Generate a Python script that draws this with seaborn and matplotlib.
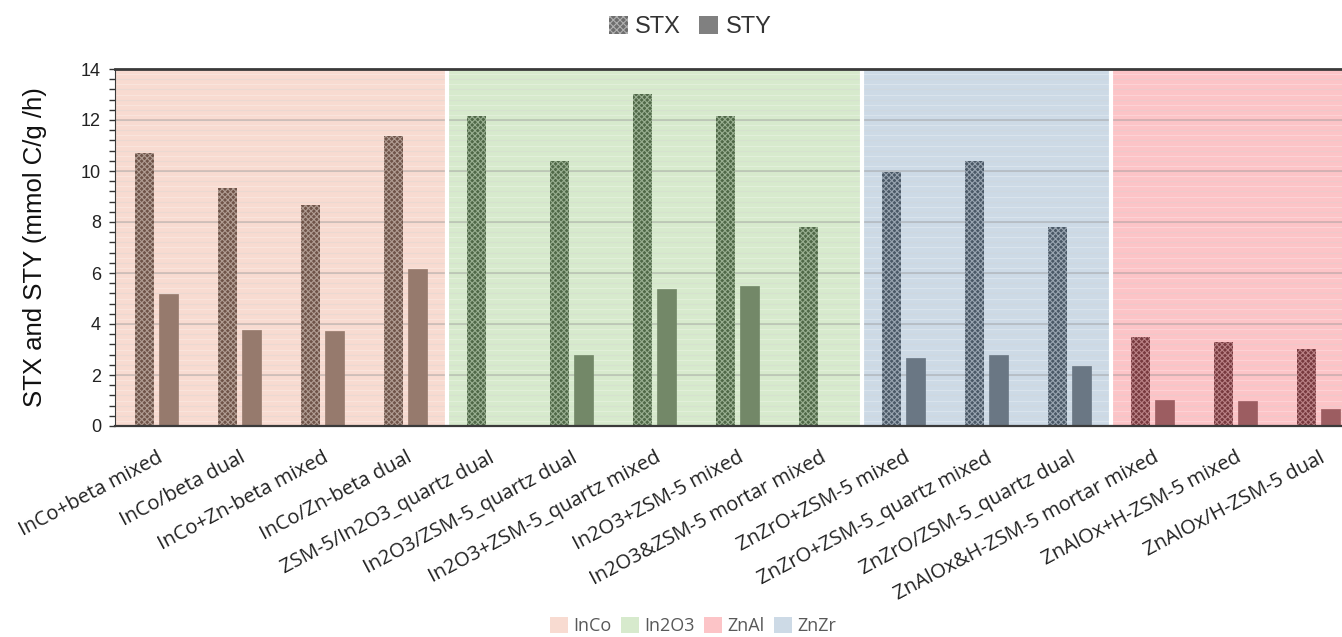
import matplotlib
matplotlib.use("Agg")
import matplotlib.pyplot as plt
from matplotlib.patches import Patch
from matplotlib.ticker import MultipleLocator
import numpy as np
import pandas as pd
import seaborn as sns

# ---- data -------------------------------------------------------------
catalysts = [
    "InCo+beta mixed", "InCo/beta dual", "InCo+Zn-beta mixed", "InCo/Zn-beta dual",
    "ZSM-5/In2O3_quartz dual", "In2O3/ZSM-5_quartz dual", "In2O3+ZSM-5_quartz mixed",
    "In2O3+ZSM-5 mixed", "In2O3&ZSM-5 mortar mixed",
    "ZnZrO+ZSM-5 mixed", "ZnZrO+ZSM-5_quartz mixed", "ZnZrO/ZSM-5_quartz dual",
    "ZnAlOx&H-ZSM-5 mortar mixed", "ZnAlOx+H-ZSM-5 mixed", "ZnAlOx/H-ZSM-5 dual",
]
families = ["InCo"] * 4 + ["In2O3"] * 5 + ["ZnZr"] * 3 + ["ZnAl"] * 3
stx = [10.7, 9.35, 8.68, 11.37, 12.15, 10.4, 13.02, 12.16, 7.79,
       9.97, 10.4, 7.79, 3.48, 3.31, 3.03]
sty = [5.16, 3.78, 3.73, 6.16, np.nan, 2.78, 5.37, 5.5, np.nan,
       2.67, 2.78, 2.37, 1.02, 0.98, 0.68]
metrics = ["STX", "STY"]
family_order = ["InCo", "In2O3", "ZnZr", "ZnAl"]
legend_order = ["InCo", "In2O3", "ZnAl", "ZnZr"]

# ---- styling ----------------------------------------------------------
bg_colors = {"InCo": "#F8DBD1", "In2O3": "#D7EACD", "ZnZr": "#CDDAE6", "ZnAl": "#FCC4C7"}
stx_colors = {"InCo": "#6F5449", "In2O3": "#4F6847", "ZnZr": "#4A5866", "ZnAl": "#77393E"}
sty_colors = {"InCo": "#967A6D", "In2O3": "#738868", "ZnZr": "#6A7784", "ZnAl": "#9C5D61"}
hatch_colors = {"InCo": "#B09C92", "In2O3": "#98AE90", "ZnZr": "#98A4B0", "ZnAl": "#B88084"}

sns.set_theme(style="white")
plt.rcParams["font.family"] = ["Liberation Sans", "DejaVu Sans"]
plt.rcParams["hatch.linewidth"] = 0.8

df = pd.DataFrame({
    "catalyst": catalysts * 2,
    "metric": ["STX"] * len(catalysts) + ["STY"] * len(catalysts),
    "value": stx + sty,
}).dropna()

W, H = 1342, 637
fig = plt.figure(figsize=(W / 100, H / 100), dpi=100)
x0, x1, y0, y1 = 115, 1342, 69, 426
ax = fig.add_axes([x0 / W, 1 - y1 / H, (x1 - x0) / W, (y1 - y0) / H])

# family backgrounds
fam_arr = np.array(families)
for fam in family_order:
    idx = np.where(fam_arr == fam)[0]
    ax.axvspan(idx[0] - 0.5, idx[-1] + 0.5, color=bg_colors[fam], lw=0, zorder=0)
for b in (3.5, 8.5, 11.5):
    ax.axvline(b, color="white", lw=3, zorder=0.6)

# horizontal grid lines
for v in np.arange(0.2, 14, 0.2):
    ax.axhline(v, color="white", lw=0.8, alpha=0.25, zorder=0.3)
for v in np.arange(0.4, 14, 0.4):
    ax.axhline(v, color="#8a8a8a", lw=0.8, alpha=0.12, zorder=0.4)
for v in range(2, 14, 2):
    ax.axhline(v, color="#7a7a7a", lw=1.2, alpha=0.32, zorder=0.5)

sns.barplot(data=df, x="catalyst", y="value", hue="metric", order=catalysts,
            hue_order=metrics, width=0.58, gap=0.2, saturation=1,
            legend=False, ax=ax, zorder=2)

for metric, cont in zip(metrics, ax.containers):
    for p in cont.patches:
        h = p.get_height()
        if not np.isfinite(h):
            continue
        i = int(round(p.get_x() + p.get_width() / 2))
        fam = families[i]
        if metric == "STX":
            p.set_facecolor(stx_colors[fam])
            p.set_edgecolor(hatch_colors[fam])
            p.set_hatch("xxxxxx")
            p.set_linewidth(0)
        else:
            p.set_facecolor(sty_colors[fam])
            p.set_edgecolor(sty_colors[fam])
            p.set_linewidth(0.5)

ax.set_xlim(-0.5, -0.5 + (x1 - x0) / 83.0)
ax.set_ylim(0, 14)
ax.yaxis.set_major_locator(MultipleLocator(2))
ax.yaxis.set_minor_locator(MultipleLocator(0.4))
ax.tick_params(axis="y", which="both", direction="out", left=True, length=4,
               width=1, color="#333333", labelsize=13, labelcolor="#222222", pad=6)
ax.tick_params(axis="x", which="both", bottom=False, pad=2)

ax.set_xlabel("")
ax.set_ylabel("STX and STY (mmol C/g /h)", fontsize=18.5, color="#111111")
ax.yaxis.set_label_coords(-(x0 - 47) / (x1 - x0), 0.5)
ax.set_xticks(range(len(catalysts)))
ax.set_xticklabels(catalysts, rotation=28, ha="right", va="top",
                   rotation_mode="anchor", fontsize=14.5, color="#222222",
                   family=["Open Sans", "DejaVu Sans"])
for lbl in ax.get_xticklabels():
    lbl.set_y(-0.03)

ax.spines["right"].set_visible(False)
ax.spines["top"].set_color("#3a3a3a")
ax.spines["top"].set_linewidth(2)
ax.spines["bottom"].set_color("#3a3a3a")
ax.spines["bottom"].set_linewidth(1.6)
ax.spines["left"].set_color("#3a3a3a")
ax.spines["left"].set_linewidth(0.8)

# series legend (top)
top_handles = [
    Patch(facecolor="#6E6E6E", edgecolor="#B0B0B0", hatch="xxxxx", lw=0, label="STX"),
    Patch(facecolor="#808080", edgecolor="#808080", lw=0, label="STY"),
]
fig.legend(handles=top_handles, loc="center", bbox_to_anchor=(690 / W, 1 - 27 / H),
           ncol=2, frameon=False, handlelength=0.8, handleheight=0.8,
           handletextpad=0.3, columnspacing=0.8,
           prop={"family": ["Liberation Sans Narrow", "Liberation Sans"], "size": 17},
           labelcolor="#333333")

# family legend (bottom)
bot_handles = [Patch(facecolor=bg_colors[f], edgecolor="none", label=f) for f in legend_order]
fig.legend(handles=bot_handles, loc="center", bbox_to_anchor=(693 / W, 1 - 626 / H),
           ncol=4, frameon=False, handlelength=1.0, handleheight=1.0,
           handletextpad=0.3, columnspacing=0.5,
           prop={"family": ["Open Sans", "DejaVu Sans"], "size": 13},
           labelcolor="#595959")

fig.savefig("out.png", dpi=100, facecolor="white")
